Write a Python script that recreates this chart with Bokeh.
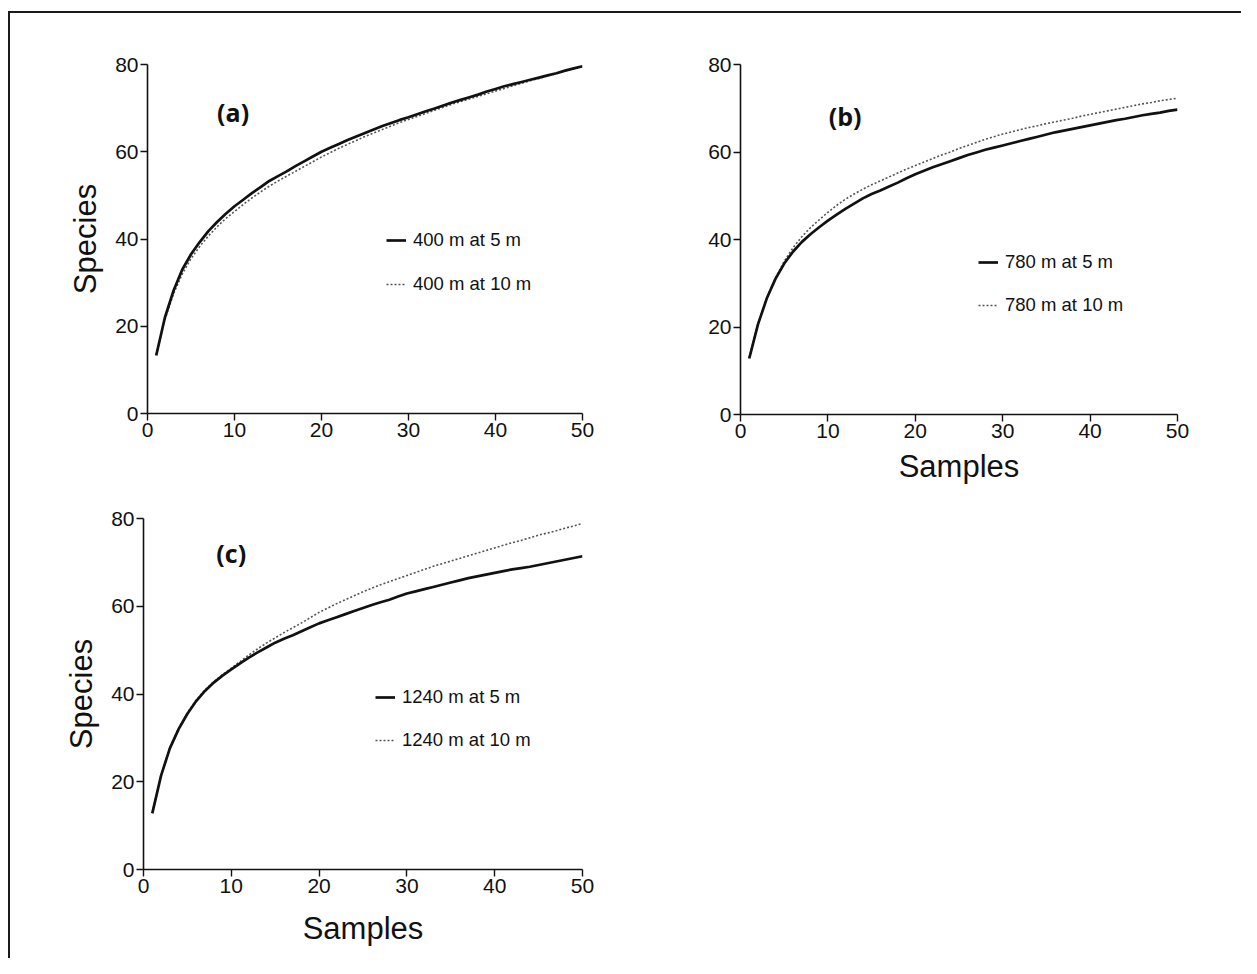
from bokeh.plotting import figure
from bokeh.models import Range1d, Legend, LegendItem, Label, FixedTicker, Spacer
from bokeh.layouts import column, row
from bokeh.embed import file_html
from bokeh.resources import INLINE

samples = list(range(1, 51))

a_5m = [13.3, 22, 28.2, 33, 36.5, 39.3, 41.8, 43.9, 45.8, 47.5, 49, 50.5, 51.9, 53.3, 54.4, 55.5, 56.7, 57.8, 58.9, 60,
        60.9, 61.8, 62.7, 63.5, 64.3, 65.1, 65.9, 66.6, 67.3, 67.9, 68.6, 69.3, 69.9, 70.6, 71.3, 71.9, 72.5, 73.1, 73.8, 74.4,
        75, 75.5, 76, 76.5, 77, 77.5, 78, 78.6, 79.1, 79.6]
a_10m = [13.5, 21.5, 27.5, 32, 35.5, 38.3, 40.7, 42.8, 44.7, 46.3, 47.9, 49.4, 50.8, 52.1, 53.3, 54.4, 55.5, 56.6, 57.7, 58.8,
         59.8, 60.8, 61.7, 62.6, 63.5, 64.3, 65.1, 65.9, 66.7, 67.4, 68.1, 68.8, 69.5, 70.2, 70.9, 71.5, 72.1, 72.7, 73.3, 73.9,
         74.5, 75.1, 75.7, 76.3, 76.8, 77.4, 77.9, 78.5, 79, 79.5]
b_5m = [12.8, 20.6, 26.5, 31, 34.5, 37.2, 39.4, 41.2, 42.8, 44.3, 45.7, 47, 48.2, 49.4, 50.4, 51.2, 52.1, 53, 54, 54.9,
        55.7, 56.5, 57.2, 57.9, 58.6, 59.3, 59.9, 60.5, 61, 61.5, 62, 62.5, 63, 63.5, 64, 64.5, 64.9, 65.3, 65.7, 66.1,
        66.5, 66.9, 67.3, 67.6, 68, 68.4, 68.7, 69, 69.4, 69.7]
b_10m = [13, 20.8, 26.6, 31.2, 35, 38.1, 40.6, 42.7, 44.5, 46.2, 47.8, 49.2, 50.4, 51.5, 52.5, 53.4, 54.3, 55.2, 56.1, 56.9,
         57.7, 58.5, 59.3, 60, 60.8, 61.5, 62.2, 62.9, 63.5, 64.1, 64.6, 65.1, 65.6, 66, 66.5, 66.9, 67.3, 67.7, 68.2, 68.6,
         69, 69.4, 69.8, 70.2, 70.6, 71, 71.3, 71.7, 72, 72.3]
c_5m = [12.8, 21.4, 27.6, 32, 35.5, 38.4, 40.7, 42.6, 44.2, 45.6, 47, 48.3, 49.5, 50.6, 51.7, 52.6, 53.4, 54.3, 55.2, 56.1,
        56.8, 57.5, 58.2, 58.9, 59.6, 60.3, 60.9, 61.5, 62.2, 62.9, 63.4, 63.9, 64.4, 64.9, 65.4, 65.9, 66.4, 66.8, 67.2, 67.6,
        68, 68.4, 68.7, 69, 69.4, 69.8, 70.2, 70.6, 71, 71.4]
c_10m = [13, 21.5, 27.8, 32.2, 35.7, 38.6, 40.9, 42.8, 44.4, 45.9, 47.4, 48.9, 50.3, 51.6, 52.8, 54, 55.1, 56.2, 57.4, 58.6,
         59.6, 60.6, 61.5, 62.4, 63.3, 64.1, 64.9, 65.6, 66.3, 67, 67.7, 68.4, 69.1, 69.7, 70.3, 70.9, 71.5, 72.1, 72.7, 73.3,
         73.9, 74.5, 75, 75.6, 76.2, 76.7, 77.2, 77.8, 78.3, 78.9]

x_ticks = [0, 10, 20, 30, 40, 50]
y_ticks = [0, 20, 40, 60, 80]

FONT = "Liberation Sans"


def panel(tag, s5, s10, lab5, lab10, frame_w, frame_h, borders, xlabel, ylabel,
          tag_pos, leg_loc, leg_spacing=20, xstand=10):
    bl, br, bt, bb = borders
    p = figure(frame_width=frame_w, frame_height=frame_h, output_backend="svg",
               toolbar_location=None, x_range=Range1d(0, 50), y_range=Range1d(0, 80),
               min_border_left=bl, min_border_right=br, min_border_top=bt, min_border_bottom=bb)
    p.outline_line_color = None
    p.grid.visible = False
    for ax in (p.xaxis[0], p.yaxis[0]):
        ax.axis_line_color = "#111111"
        ax.axis_line_width = 1.6
        ax.major_tick_line_color = "#111111"
        ax.major_tick_line_width = 1.4
        ax.major_tick_out = 7
        ax.major_tick_in = 0
        ax.minor_tick_line_color = None
        ax.major_label_text_font = FONT
        ax.major_label_text_font_size = "21px"
        ax.major_label_text_color = "#111111"
        ax.major_label_standoff = 2
        ax.axis_label_text_font = FONT
        ax.axis_label_text_font_size = "31px"
        ax.axis_label_text_font_style = "normal"
        ax.axis_label_text_color = "#111111"
    p.xaxis[0].ticker = FixedTicker(ticks=x_ticks)
    p.yaxis[0].ticker = FixedTicker(ticks=y_ticks)
    if xlabel:
        p.xaxis[0].axis_label = xlabel
        p.xaxis[0].axis_label_standoff = xstand
    if ylabel:
        p.yaxis[0].axis_label = ylabel
        p.yaxis[0].axis_label_standoff = 9

    r10 = p.line(samples, s10, line_color="#555555", line_width=1.6, line_dash="2 2")
    r5 = p.line(samples, s5, line_color="#111111", line_width=2.7)

    leg = Legend(items=[LegendItem(label=lab5, renderers=[r5]),
                        LegendItem(label=lab10, renderers=[r10])],
                 location=leg_loc, padding=0, margin=0, spacing=leg_spacing,
                 glyph_width=20, glyph_height=20, label_height=20, label_standoff=7,
                 label_text_font=FONT, label_text_font_size="18.5px", label_text_color="#111111",
                 border_line_color=None, background_fill_alpha=0)
    p.add_layout(leg, "center")

    p.add_layout(Label(x=tag_pos[0], y=tag_pos[1], text=tag, text_font="Open Sans",
                       text_font_style="bold", text_font_size="25px", text_color="#111111",
                       text_baseline="middle", text_align="left"))
    return p


pa = panel("(a)", a_5m, a_10m, "400 m at 5 m", "400 m at 10 m", 435, 349,
           (137, 50, 51, 87), None, "Species", (8.0, 69.0), (239, 118), leg_spacing=22)
pb = panel("(b)", b_5m, b_10m, "780 m at 5 m", "780 m at 10 m", 437, 350,
           (108, 60, 49, 88), "Samples", None, (10.1, 68.3), (238, 98), leg_spacing=21, xstand=8)
pc = panel("(c)", c_5m, c_10m, "1240 m at 5 m", "1240 m at 10 m", 439, 351,
           (133, 50, 18, 89), "Samples", "Species", (8.3, 72.2), (232, 118), leg_spacing=21, xstand=15)

inner = column(row(pa, pb), row(pc), width=1233, height=947,
               styles={"border-top": "2px solid #1a1a1a", "border-left": "2px solid #1a1a1a",
                       "background-color": "white"})
layout = column(Spacer(width=1241, height=11), row(Spacer(width=8, height=947), inner),
                width=1241, height=958)

open("out.html", "w").write(file_html(layout, INLINE))
